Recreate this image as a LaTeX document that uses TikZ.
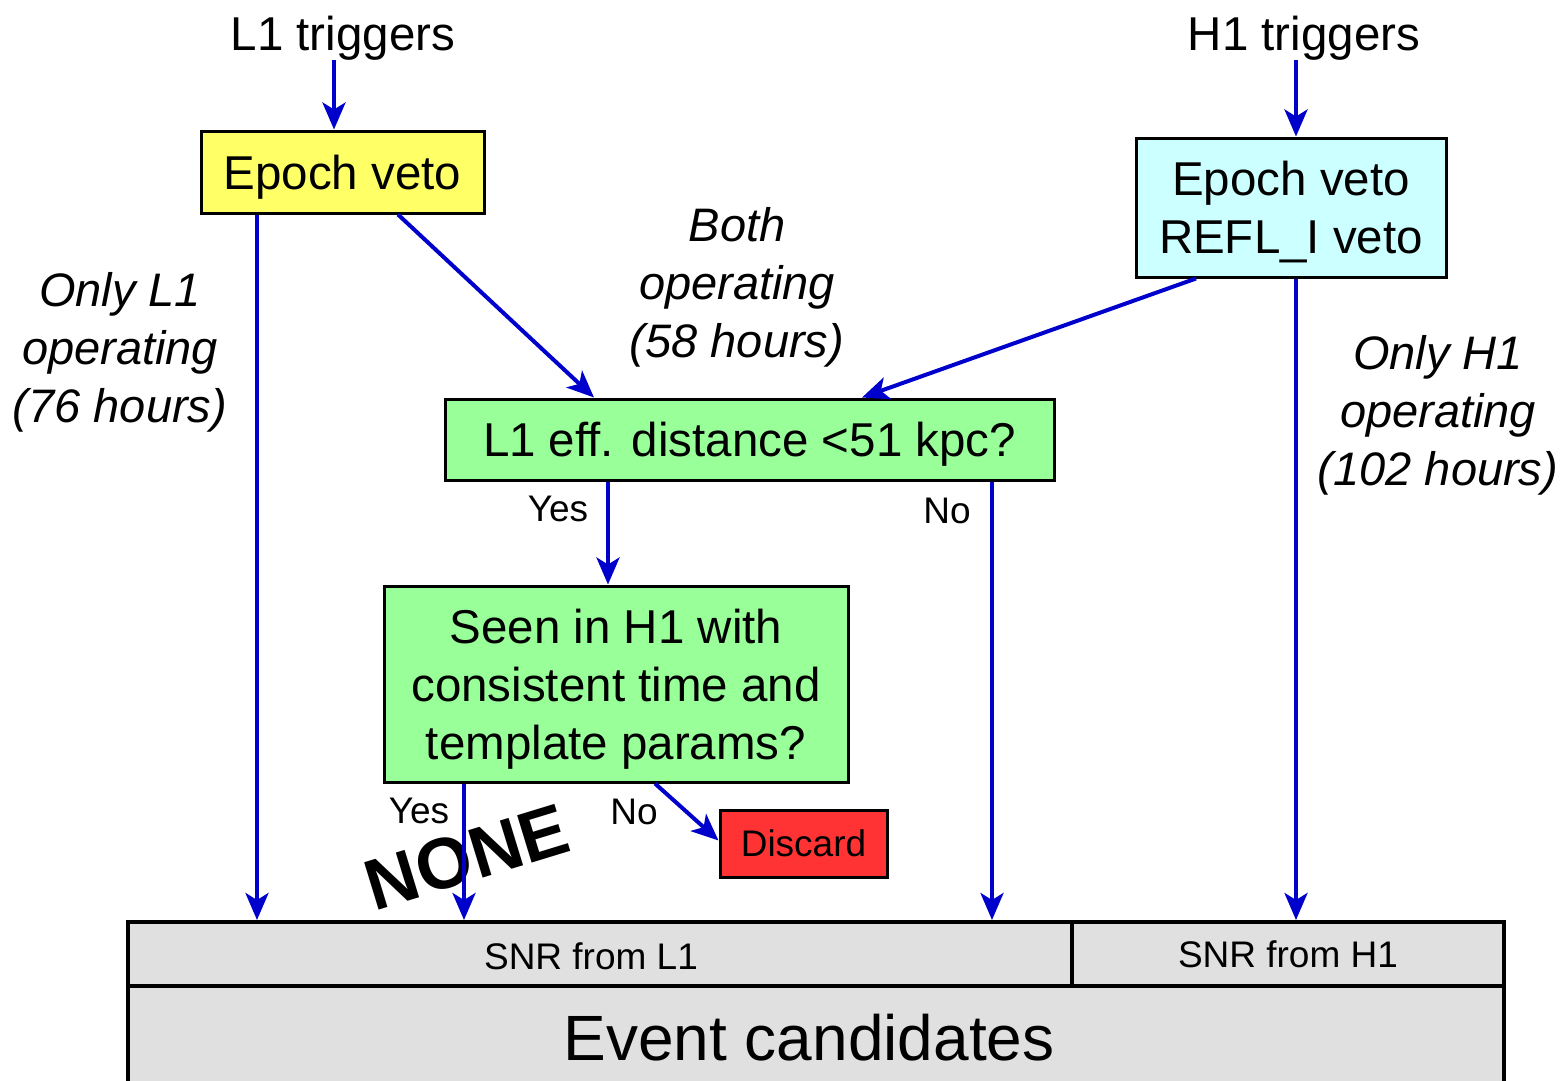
\documentclass[tikz,border=0pt]{standalone}
\usepackage{fontspec}
\setmainfont{Liberation Sans}
\usetikzlibrary{arrows.meta}
\definecolor{arrblue}{RGB}{0,0,204}
\definecolor{boxyellow}{RGB}{255,255,102}
\definecolor{boxcyan}{RGB}{204,255,255}
\definecolor{boxgreen}{RGB}{153,255,153}
\definecolor{boxred}{RGB}{255,51,51}
\definecolor{boxgrey}{RGB}{224,224,224}
\begin{document}
\begin{tikzpicture}[x=1pt,y=-1pt,
  big/.style={font=\fontsize{47.5}{58}\selectfont},
  small/.style={font=\fontsize{37}{44}\selectfont},
  ital/.style={font=\fontsize{47}{58}\selectfont\itshape, align=center, inner sep=0pt},
  box/.style={draw=black, line width=3pt, inner sep=0pt, align=center, big, text depth=0pt},
  bottombox/.style={draw=black, line width=4pt, fill=boxgrey, inner sep=0pt, text depth=0pt},
  arr/.style={draw=arrblue, line width=4pt, -{Stealth[length=27pt,width=23pt,inset=7pt]}},
  lbl/.style={small, inner sep=0pt}
]
\useasboundingbox[fill=white] (0,0) rectangle (1564,1080);

% triggers
\node[big, inner sep=0pt] (l1t) at (343,38) {L1 triggers};
\node[big, inner sep=0pt] (h1t) at (1304,38) {H1 triggers};

% boxes
\node[box, fill=boxyellow, minimum width=283pt, minimum height=82pt] (ep1) at (342.5,172) {Epoch veto};
\node[box, fill=boxcyan, minimum width=310pt, minimum height=139pt] (ep2) at (1291,207.5) {Epoch veto\\REFL\_I veto};
\node[box, fill=boxgreen, minimum width=609pt, minimum height=81pt] (dist) at (749.5,439.5) {L1 eff. distance <51 kpc?};
\node[box, fill=boxgreen, minimum width=464pt, minimum height=196pt] (seen) at (616,684) {Seen in H1 with\\consistent time and\\template params?};
\node[box, fill=boxred, small, minimum width=167pt, minimum height=67pt] (disc) at (803.5,843.5) {Discard};

% bottom boxes
\node[bottombox, minimum width=1376pt, minimum height=98pt] (event) at (816,1035) {};
\node[inner sep=0pt, font=\fontsize{64}{70}\selectfont, text depth=0pt] (eventtext) at (809,1037) {Event candidates};
\node[bottombox, minimum width=944pt, minimum height=64pt] (snr1) at (600,954) {};
\node[small, inner sep=0pt, text depth=0pt] (snr1text) at (591,956) {SNR from L1};
\node[bottombox, small, minimum width=432pt, minimum height=64pt] (snr2) at (1288,954) {SNR from H1};

% italic labels
\node[ital] (lab1) at (120,352) {Only L1\\operating\\(76 hours)};
\node[ital] (lab2) at (737,287) {Both\\operating\\(58 hours)};
\node[ital] (lab3) at (1438,415) {Only H1\\operating\\(102 hours)};

% yes / no labels
\node[lbl] (y1) at (558,509) {Yes};
\node[lbl] (n1) at (947,511) {No};
\node[lbl] (y2) at (419,811) {Yes};
\node[lbl] (n2) at (634,812) {No};

% NONE
\node[rotate=17, inner sep=0pt, font=\fontsize{72}{80}\selectfont\bfseries] (none) at (467,857) {NONE};

% connectors
\draw[arr] (l1t.south -| 334,0) -- (ep1.north -| 334,0);
\draw[arr] (h1t.south -| 1296,0) -- (ep2.north -| 1296,0);
\draw[arr] (ep1.south -| 257,0) -- (snr1.north -| 257,0);
\draw[arr] (ep2.south -| 1296,0) -- (snr2.north -| 1296,0);
\draw[arr] (ep1.south -| 398,0) -- (dist.north -| 594,0);
\draw[arr] (ep2.south -| 1196,0) -- (dist.north -| 862,0);
\draw[arr] (dist.south -| 608,0) -- (seen.north -| 608,0);
\draw[arr] (dist.south -| 992,0) -- (snr1.north -| 992,0);
\draw[arr] (seen.south -| 464,0) -- (snr1.north -| 464,0);
\draw[arr] (seen.south -| 655,0) -- ([yshift=3pt]disc.west);
\end{tikzpicture}
\end{document}
